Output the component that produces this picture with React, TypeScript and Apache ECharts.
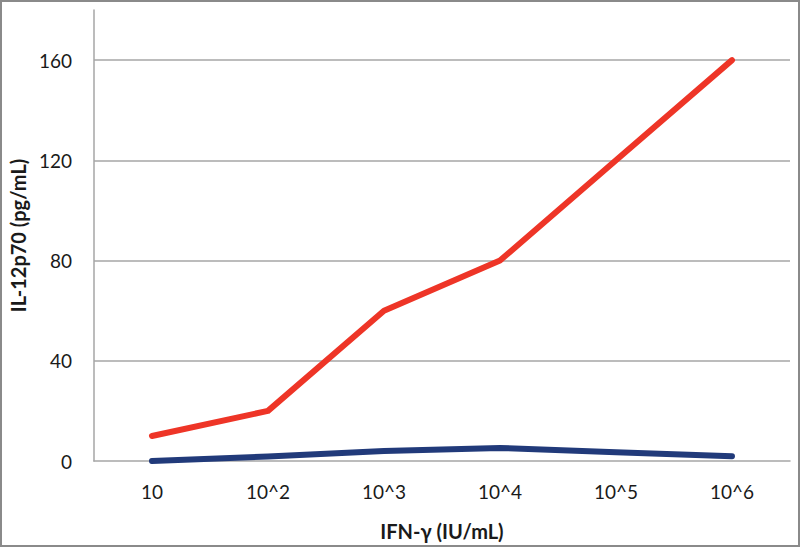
import React, { useEffect, useRef } from "react";
import * as echarts from "echarts";

const categories = ["10", "10^2", "10^3", "10^4", "10^5", "10^6"];
const redValues = [10, 20, 60, 80, 120, 160];
const blueValues = [0, 1.8, 4, 5.2, 3.5, 1.9];
const gridValues = [40, 80, 120, 160];

export default function App() {
  const ref = useRef<HTMLDivElement>(null);
  useEffect(() => {
    if (!ref.current) return;
    const chart = echarts.init(ref.current, null, { renderer: "svg" });
    const font = "Lato, 'Open Sans', sans-serif";
    chart.setOption({
      animation: false,
      backgroundColor: "#ffffff",
      grid: { left: 93, right: 10, top: 10, bottom: 86, containLabel: false },
      graphic: [
        {
          type: "rect",
          shape: { x: 1, y: 1, width: 798, height: 545 },
          style: { fill: "none", stroke: "#8a8a8a", lineWidth: 2 },
          silent: true,
        },
      ],
      xAxis: {
        type: "category",
        data: categories,
        boundaryGap: true,
        axisLine: { show: true, lineStyle: { color: "#a6a6a6", width: 1.5 } },
        axisTick: { show: false },
        axisLabel: { color: "#1a1a1a", fontSize: 19, fontFamily: font, margin: 21 },
        name: "IFN-γ (IU/mL)",
        nameLocation: "middle",
        nameGap: 60,
        nameTextStyle: { color: "#1a1a1a", fontSize: 20, fontWeight: "bold", fontFamily: font },
      },
      yAxis: {
        type: "value",
        min: 0,
        max: 180,
        interval: 40,
        axisLine: { show: true, lineStyle: { color: "#a6a6a6", width: 1.5 } },
        axisTick: { show: false },
        splitLine: { show: false },
        axisLabel: {
          color: "#1a1a1a",
          fontSize: 19,
          fontFamily: font,
          margin: 22,
          formatter: (v: number) => (v > 160 ? "" : String(v)),
        },
        name: "IL-12p70 (pg/mL)",
        nameLocation: "middle",
        nameGap: 65,
        nameRotate: 90,
        nameTextStyle: { color: "#1a1a1a", fontSize: 20, fontWeight: "bold", fontFamily: font },
      },
      series: [
        {
          type: "line",
          data: blueValues,
          showSymbol: false,
          symbol: "none",
          lineStyle: { color: "#213a7a", width: 6, cap: "round", join: "round" },
          z: 3,
        },
        {
          type: "line",
          data: redValues,
          showSymbol: false,
          symbol: "none",
          lineStyle: { color: "#ee3527", width: 6, cap: "round", join: "round" },
          z: 4,
          markLine: {
            silent: true,
            symbol: "none",
            label: { show: false },
            lineStyle: { color: "#a6a6a6", width: 1.5, type: "solid" },
            data: gridValues.map((v) => ({ yAxis: v })),
            z: 1,
          },
        },
      ],
    });
    return () => chart.dispose();
  }, []);
  return (
    <div
      ref={ref}
      style={{ position: "absolute", left: 0, top: 0, width: 800, height: 547 }}
    />
  );
}
